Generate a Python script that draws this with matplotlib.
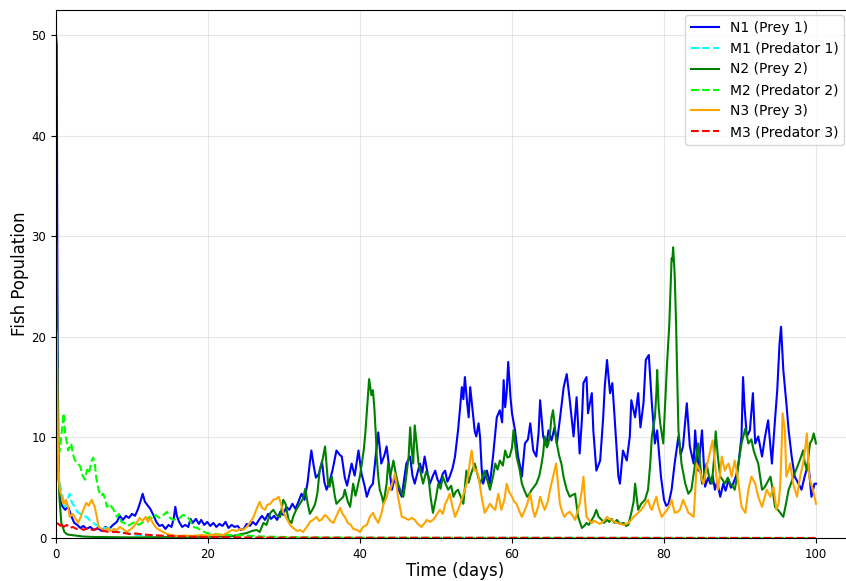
import matplotlib
matplotlib.use("Agg")
import matplotlib.pyplot as plt
import numpy as np

# (time in days, population)
n1_pts = [(0, 50), (0.1, 49), (0.2, 20), (0.35, 6), (0.6, 3.6), (0.8, 3.2), (1.2, 2.8), (1.6, 3.1), (2.0, 2.2),
          (2.4, 1.5), (2.8, 1.3),
          (3.2, 1.0), (3.6, 1.2), (4.0, 0.9), (4.5, 1.1), (5.0, 0.8), (5.5, 1.0), (6.0, 0.7), (6.5, 1.1), (7.0, 0.9),
          (7.5, 1.3), (8.0, 1.6), (8.4, 2.2), (8.8, 1.8), (9.2, 2.2), (9.6, 2.0), (10.0, 2.4), (10.4, 2.2), (10.8, 2.9),
          (11.1, 3.6), (11.4, 4.4), (11.7, 3.6), (12.0, 3.3), (12.4, 2.9), (12.8, 2.3), (13.2, 1.6), (13.6, 1.2),
          (14.0, 1.3), (14.4, 0.9), (14.8, 1.3), (15.2, 1.1), (15.5, 2.0), (15.7, 3.1), (15.9, 2.2), (16.2, 1.6),
          (16.6, 1.1), (17.0, 1.3), (17.4, 1.1), (17.7, 1.9), (18.0, 1.5), (18.4, 1.9), (18.8, 1.4), (19.1, 1.8),
          (19.5, 1.3), (19.9, 1.6), (20.3, 1.2), (20.7, 1.5), (21.1, 1.1), (21.5, 1.4), (21.9, 1.2), (22.3, 1.6),
          (22.7, 1.0), (23.1, 1.3), (23.5, 1.1), (23.9, 1.2), (24.3, 0.8), (24.7, 0.9), (25.1, 1.4), (25.5, 1.2),
          (25.9, 1.6), (26.3, 1.3), (26.7, 1.8), (27.1, 2.2), (27.5, 1.8), (27.9, 2.4), (28.3, 1.9), (28.7, 2.2),
          (29.1, 1.8), (29.5, 2.6), (29.9, 2.3), (30.3, 3.1), (30.7, 2.8), (31.1, 3.4), (31.5, 2.9), (31.9, 3.6),
          (32.3, 4.4), (32.7, 3.8), (33.1, 5.5), (33.4, 7.5), (33.6, 8.7), (33.9, 7.2), (34.2, 6.0), (34.6, 6.4),
          (35.0, 7.6), (35.3, 5.6), (35.6, 4.8), (36.0, 5.6), (36.4, 6.8), (36.9, 8.7), (37.3, 8.3), (37.6, 8.1),
          (38.0, 6.0), (38.3, 5.2), (38.6, 6.3), (38.9, 7.4), (39.3, 6.2), (39.8, 8.7), (40.2, 6.4), (40.6, 5.2),
          (40.9, 4.1), (41.3, 5.0), (41.7, 5.4), (42.1, 8.4), (42.4, 10.5), (42.8, 7.4), (43.2, 8.2), (43.5, 9.1),
          (43.9, 6.6), (44.2, 4.8), (44.5, 5.8), (44.8, 5.4), (45.2, 4.6), (45.5, 4.1), (45.8, 5.8), (46.1, 7.4),
          (46.6, 8.1), (46.9, 6.2), (47.2, 5.4), (47.6, 6.6), (47.9, 7.4), (48.2, 6.5), (48.5, 8.1), (48.9, 6.4),
          (49.2, 5.4), (49.6, 6.2), (49.9, 6.7), (50.2, 5.8), (50.5, 5.4), (50.9, 6.4), (51.2, 6.7), (51.5, 5.6),
          (51.8, 6.1), (52.2, 7.0), (52.5, 8.1), (52.9, 10.7), (53.2, 13.2), (53.4, 15.0), (53.6, 13.8), (53.8, 16.0),
          (54.1, 13.4), (54.3, 12.0), (54.5, 15.0), (54.9, 12.0), (55.1, 10.6), (55.3, 10.1), (55.6, 11.4),
          (55.8, 10.0), (56.0, 7.0), (56.2, 5.4), (56.5, 6.2), (56.7, 6.7), (57.1, 5.4), (57.5, 8.1), (58.0, 12.0),
          (58.4, 12.7), (58.7, 11.5), (58.9, 15.7), (59.1, 13.0), (59.3, 14.5), (59.5, 17.5), (59.8, 14.0),
          (60.0, 12.4), (60.4, 10.7), (60.8, 8.1), (61.1, 7.0), (61.3, 6.1), (61.7, 9.4), (62.1, 9.8), (62.4, 11.4),
          (62.8, 8.7), (63.2, 8.1), (63.5, 10.5), (63.7, 13.7), (64.1, 10.1), (64.5, 9.2), (64.8, 10.7), (65.2, 9.7),
          (65.6, 11.0), (65.9, 9.4), (66.3, 11.8), (66.8, 15.0), (67.2, 16.3), (67.6, 13.7), (68.1, 10.1),
          (68.5, 14.0), (68.9, 8.4), (69.2, 11.8), (69.4, 15.4), (69.8, 16.0), (70.0, 12.4), (70.5, 14.4),
          (70.7, 10.7), (71.1, 6.7), (71.6, 7.7), (72.0, 12.0), (72.2, 15.0), (72.5, 17.7), (72.9, 14.4),
          (73.2, 15.4), (73.5, 12.0), (74.0, 6.1), (74.2, 5.4), (74.6, 8.7), (75.1, 7.7), (75.5, 10.1), (75.7, 13.7),
          (76.2, 12.0), (76.6, 14.4), (76.9, 11.0), (77.3, 13.4), (77.6, 17.7), (78.0, 18.2), (78.4, 13.4),
          (78.8, 9.4), (79.1, 10.7), (79.6, 6.1), (80.0, 3.8), (80.3, 3.2), (80.6, 3.4), (81.0, 4.8), (81.4, 7.4),
          (81.9, 10.1), (82.2, 8.3), (82.5, 9.1), (83.0, 13.4), (83.4, 9.1), (83.9, 7.4), (84.1, 10.7), (84.5, 6.7),
          (85.0, 10.7), (85.4, 5.1), (85.8, 6.0), (86.1, 5.4), (86.4, 6.2), (86.7, 4.8), (87.0, 5.6), (87.4, 4.1),
          (87.8, 5.4), (88.1, 4.7), (88.5, 5.8), (88.8, 5.0), (89.1, 5.4), (89.5, 6.2), (89.8, 7.4), (90.2, 10.1),
          (90.4, 16.0), (90.6, 13.0), (90.9, 10.1), (91.3, 10.7), (91.7, 14.4), (92.0, 9.4), (92.4, 10.1),
          (92.9, 8.1), (93.3, 10.1), (93.7, 11.7), (94.2, 7.4), (94.6, 11.7), (94.9, 14.7), (95.2, 19.3),
          (95.4, 21.0), (95.7, 16.7), (96.1, 13.4), (96.4, 10.7), (96.8, 8.1), (97.2, 6.1), (97.7, 5.4), (98.1, 4.8),
          (98.5, 6.1), (99.0, 7.4), (99.4, 4.1), (99.8, 5.4), (100, 5.4)]

m1_pts = [(0, 8.7), (0.2, 7), (0.4, 5.5), (0.7, 4.8), (1.0, 3.6), (1.2, 3.1), (1.5, 3.8), (1.8, 4.4), (2.1, 3.5),
          (2.5, 3.1), (2.8, 2.6), (3.2, 2.4), (3.6, 2.2), (4.0, 2.1), (4.4, 1.8), (4.9, 1.5), (5.3, 1.3), (5.8, 1.1),
          (6.3, 1.0), (6.9, 1.0), (7.4, 0.8), (8.0, 0.6), (8.6, 0.6), (9.3, 0.5), (10.0, 0.4), (10.6, 0.3),
          (11.5, 0.3), (12.5, 0.2), (13.5, 0.2), (15, 0.15), (17, 0.1), (20, 0.08), (25, 0.04), (30, 0.02),
          (40, 0.01), (100, 0.0)]

n2_pts = [(0, 30), (0.1, 29), (0.25, 10), (0.45, 4), (0.7, 1.5), (1.1, 0.6), (1.5, 0.35), (2.0, 0.3), (2.5, 0.25),
          (3.5, 0.15),
          (5, 0.1), (7, 0.08), (10, 0.06), (14, 0.08), (18, 0.1), (22, 0.15), (23.3, 0.2), (24.2, 0.35), (25.1, 0.5),
          (25.8, 0.7), (26.4, 0.8), (26.8, 0.6), (27.3, 1.5), (27.7, 1.3), (28.2, 2.5), (28.6, 2.8), (29.0, 2.3),
          (29.5, 2.1), (29.9, 3.8), (30.2, 3.4), (30.6, 1.8), (31.0, 1.5), (31.2, 2.1), (31.6, 2.8), (32.1, 3.4),
          (32.5, 3.9), (32.8, 4.9), (33.1, 3.5), (33.4, 2.4), (33.8, 2.9), (34.1, 3.4), (34.4, 4.5), (34.7, 6.8),
          (35.0, 7.5), (35.4, 9.1), (35.8, 5.4), (36.0, 5.1), (36.3, 6.1), (36.7, 4.1), (36.9, 3.4), (37.4, 3.8),
          (37.8, 4.1), (38.0, 4.8), (38.4, 3.6), (38.7, 3.1), (39.1, 5.4), (39.4, 4.2), (39.6, 4.8), (40.0, 6.2),
          (40.2, 7.2), (40.5, 8.8), (40.7, 10.4), (41.0, 13.7), (41.2, 15.8), (41.5, 14.2), (41.7, 14.7),
          (41.9, 12.8), (42.1, 10.0), (42.2, 8.1), (42.4, 6.1), (42.6, 4.8), (42.9, 4.1), (43.1, 3.4), (43.5, 5.4),
          (43.7, 7.4), (44.0, 6.2), (44.4, 7.7), (44.7, 6.4), (45.0, 5.4), (45.4, 4.6), (45.7, 4.1), (46.0, 5.6),
          (46.4, 8.1), (46.6, 11.0), (46.8, 8.8), (47.0, 7.4), (47.2, 11.2), (47.5, 9.0), (47.7, 7.4), (48.0, 6.4),
          (48.3, 5.4), (48.7, 6.6), (49.0, 6.1), (49.3, 4.0), (49.6, 2.5), (50.0, 4.0), (50.3, 5.4), (50.6, 4.9),
          (50.9, 6.1), (51.3, 5.3), (51.6, 4.8), (52.0, 5.2), (52.3, 4.1), (52.6, 4.6), (52.9, 4.8), (53.3, 4.0),
          (53.6, 3.4), (54.0, 6.7), (54.3, 5.5), (54.5, 6.1), (54.8, 6.8), (55.1, 7.4), (55.5, 6.2), (55.8, 5.4),
          (56.1, 6.0), (56.4, 6.7), (56.8, 5.6), (57.1, 4.8), (57.5, 6.1), (57.8, 7.4), (58.1, 6.8), (58.4, 7.7),
          (58.8, 7.2), (59.1, 8.7), (59.4, 8.0), (59.7, 8.1), (60.0, 9.0), (60.2, 10.7), (60.4, 9.4), (60.6, 8.1),
          (61.0, 6.8), (61.3, 5.4), (61.7, 4.6), (62.0, 4.1), (62.3, 4.4), (62.6, 4.8), (62.9, 5.1), (63.2, 5.4),
          (63.6, 6.2), (63.9, 7.4), (64.1, 8.4), (64.3, 10.1), (64.6, 9.0), (64.8, 9.4), (65.0, 10.4), (65.2, 12.0),
          (65.4, 12.7), (65.7, 10.6), (65.9, 9.4), (66.2, 8.2), (66.5, 7.4), (66.8, 6.0), (67.2, 4.8), (67.6, 4.1),
          (68.0, 4.3), (68.3, 4.4), (68.7, 2.1), (69.2, 1.0), (69.5, 1.2), (69.8, 1.5), (70.1, 1.3), (70.5, 1.8),
          (70.8, 2.2), (71.1, 2.8), (71.4, 2.1), (71.8, 1.8), (72.1, 1.5), (72.5, 1.8), (72.8, 1.6), (73.1, 1.9),
          (73.5, 1.5), (73.8, 1.8), (74.2, 1.4), (74.7, 1.5), (75.0, 1.2), (75.3, 1.3), (75.7, 2.5), (76.0, 3.6),
          (76.2, 5.4), (76.6, 2.8), (77.0, 3.4), (77.5, 3.8), (77.9, 4.8), (78.2, 7.5), (78.4, 10.1), (78.8, 12.0),
          (79.0, 14.5), (79.1, 16.7), (79.3, 13.0), (79.5, 11.4), (79.9, 9.4), (80.1, 12.5), (80.4, 17.3),
          (80.7, 21.3), (80.9, 25.6), (81.0, 27.8), (81.1, 27.6), (81.2, 28.9), (81.4, 26.3), (81.6, 21.0),
          (81.7, 17.3), (81.9, 10.7), (82.3, 7.4), (82.8, 5.4), (83.2, 4.4), (83.6, 4.8), (84.1, 7.4), (84.5, 9.4),
          (85.0, 5.4), (85.3, 6.3), (85.6, 7.4), (85.9, 6.2), (86.3, 5.4), (86.6, 8.0), (86.8, 10.6), (87.1, 8.0),
          (87.4, 6.1), (87.7, 5.8), (88.0, 5.4), (88.4, 6.0), (88.7, 5.4), (89.0, 5.2), (89.3, 4.8), (89.6, 6.0),
          (89.8, 7.4), (90.2, 9.4), (90.7, 10.9), (91.1, 9.4), (91.5, 9.8), (91.8, 8.7), (92.1, 8.0), (92.4, 7.4),
          (92.7, 5.8), (92.9, 4.8), (93.2, 5.0), (93.5, 5.4), (94.0, 6.1), (94.3, 4.8), (94.6, 3.1), (95.0, 2.8),
          (95.3, 2.5), (95.7, 2.1), (96.0, 3.2), (96.4, 4.8), (96.7, 5.4), (97.0, 6.1), (97.4, 6.8), (97.7, 7.4),
          (98.0, 8.0), (98.3, 8.7), (98.5, 7.6), (98.8, 6.7), (99.2, 9.4), (99.5, 9.8), (99.7, 10.4), (100, 9.4)]

m2_pts = [(0, 6), (0.1, 7), (0.3, 8.2), (0.5, 8.7), (0.75, 10.5), (1.0, 12.4), (1.2, 10.4), (1.4, 9.6), (1.6, 8.7),
          (1.8, 9.0), (2.0, 9.4), (2.2, 8.4), (2.5, 7.7), (2.8, 7.5), (3.2, 7.1), (3.5, 6.2), (3.8, 5.8), (4.1, 6.8),
          (4.3, 6.4), (4.5, 7.0), (4.7, 7.7), (4.9, 8.0), (5.1, 7.4), (5.3, 6.0), (5.6, 4.8), (5.9, 4.2), (6.2, 4.4),
          (6.5, 3.8), (6.7, 3.1), (7.0, 3.4), (7.3, 3.1), (7.6, 2.8), (8.0, 2.1), (8.3, 2.4), (8.6, 1.6), (9.0, 1.5),
          (9.4, 1.2), (9.9, 1.4), (10.4, 1.6), (10.9, 1.3), (11.3, 1.5), (11.8, 1.8), (12.3, 2.1), (12.7, 1.9),
          (13.1, 2.3), (13.6, 2.0), (14.0, 2.2), (14.6, 2.6), (15.0, 2.0), (15.4, 1.8), (15.8, 1.9), (16.3, 2.0),
          (16.7, 2.3), (17.2, 2.2), (17.6, 1.8), (18.0, 1.1), (18.6, 1.0), (19.0, 0.8), (19.8, 0.5), (20.5, 0.4),
          (21.6, 0.35), (23, 0.3), (25, 0.25), (27, 0.15), (30, 0.1), (35, 0.05), (45, 0.02), (100, 0.0)]

n3_pts = [(0, 21), (0.1, 20), (0.25, 9), (0.45, 5), (0.75, 4.1), (1.0, 3.4), (1.3, 3.8), (1.6, 3.1), (1.8, 2.1),
          (2.2, 2.4),
          (2.5, 2.0), (2.9, 1.5), (3.2, 2.0), (3.6, 2.8), (4.0, 3.5), (4.3, 3.2), (4.7, 3.8), (5.1, 3.1), (5.4, 2.0),
          (5.6, 1.1), (6.0, 0.9), (6.4, 0.7), (6.8, 1.0), (7.2, 0.7), (7.6, 0.9), (8.0, 0.8), (8.4, 1.1), (8.8, 0.9),
          (9.3, 0.6), (9.7, 0.8), (10.2, 1.1), (10.6, 1.5), (11.0, 2.0), (11.4, 1.7), (11.8, 2.1), (12.1, 1.6),
          (12.4, 2.0), (12.8, 1.4), (13.2, 1.0), (13.6, 0.8), (14.1, 0.6), (14.6, 0.4), (15.2, 0.3), (16, 0.2),
          (17, 0.25), (18, 0.2), (19, 0.3), (20, 0.25), (21, 0.35), (22, 0.3), (22.5, 0.5), (23.2, 0.8), (23.8, 0.7),
          (24.2, 0.9), (24.6, 0.8), (25.1, 1.1), (25.5, 1.5), (26.0, 2.1), (26.4, 2.9), (26.8, 3.6), (27.1, 3.0),
          (27.5, 2.8), (27.8, 3.3), (28.2, 3.4), (28.6, 3.8), (29.0, 3.9), (29.3, 4.1), (29.6, 3.4), (29.9, 2.6),
          (30.3, 2.0), (30.8, 1.3), (31.2, 1.0), (31.7, 0.7), (32.1, 0.8), (32.5, 0.6), (33.0, 1.1), (33.4, 1.6),
          (33.8, 1.8), (34.3, 2.1), (34.6, 1.7), (34.9, 1.8), (35.4, 2.3), (35.8, 2.0), (36.1, 1.7), (36.5, 1.5),
          (36.9, 2.2), (37.4, 3.0), (37.7, 2.4), (38.0, 2.1), (38.4, 1.5), (38.8, 1.3), (39.1, 0.9), (39.6, 0.8),
          (40.0, 0.6), (40.4, 1.1), (40.9, 1.3), (41.3, 2.1), (41.7, 2.5), (42.0, 2.0), (42.4, 1.5), (42.8, 2.4),
          (43.1, 3.4), (43.5, 4.0), (43.8, 5.0), (44.0, 4.8), (44.3, 5.6), (44.6, 6.4), (45.0, 4.1), (45.3, 2.9),
          (45.5, 2.1), (45.9, 2.0), (46.4, 1.8), (46.8, 2.0), (47.2, 1.8), (47.6, 1.4), (48.1, 1.1), (48.5, 1.5),
          (48.8, 1.8), (49.2, 1.6), (49.6, 1.8), (50.0, 2.2), (50.5, 2.8), (50.9, 2.4), (51.2, 3.4), (51.5, 3.8),
          (51.8, 4.4), (52.2, 3.0), (52.5, 2.1), (52.9, 2.8), (53.2, 3.4), (53.5, 4.1), (53.8, 4.8), (54.1, 5.6),
          (54.3, 6.7), (54.5, 7.8), (54.7, 8.7), (55.0, 6.7), (55.3, 6.8), (55.6, 6.1), (56.0, 4.1), (56.4, 2.5),
          (56.8, 3.0), (57.1, 3.4), (57.5, 3.0), (57.8, 2.8), (58.2, 4.4), (58.6, 2.8), (59.0, 3.8), (59.3, 5.4),
          (59.6, 4.6), (60.0, 4.1), (60.3, 3.6), (60.6, 3.4), (61.0, 2.6), (61.3, 2.1), (61.7, 2.8), (62.0, 3.4),
          (62.4, 4.4), (62.7, 3.0), (63.0, 2.1), (63.4, 3.0), (63.7, 4.1), (64.0, 3.4), (64.3, 2.8), (64.7, 3.6),
          (65.0, 4.8), (65.4, 6.1), (65.8, 7.4), (66.1, 5.0), (66.3, 3.4), (66.6, 2.6), (66.9, 2.1), (67.2, 2.4),
          (67.6, 2.6), (68.0, 2.2), (68.3, 1.8), (68.6, 2.6), (68.9, 3.4), (69.2, 4.8), (69.4, 6.1), (69.6, 3.8),
          (69.8, 2.1), (70.1, 1.8), (70.5, 1.5), (70.8, 1.7), (71.1, 1.6), (71.5, 1.4), (71.8, 1.5), (72.2, 1.8),
          (72.5, 2.1), (72.8, 1.9), (73.1, 1.8), (73.5, 1.6), (73.8, 1.5), (74.2, 1.4), (74.7, 1.3), (75.0, 1.4),
          (75.3, 1.5), (75.7, 1.8), (76.0, 2.1), (76.3, 2.3), (76.6, 2.5), (77.0, 2.8), (77.3, 3.1), (77.6, 3.5),
          (77.9, 3.8), (78.2, 3.0), (78.4, 2.8), (78.7, 3.5), (79.0, 4.1), (79.3, 3.0), (79.7, 2.1), (80.0, 2.4),
          (80.4, 2.8), (80.7, 3.2), (81.0, 3.8), (81.4, 2.5), (81.8, 2.6), (82.1, 2.8), (82.5, 3.8), (82.9, 3.1),
          (83.2, 2.5), (83.6, 2.3), (83.9, 2.1), (84.1, 4.5), (84.3, 7.4), (84.7, 6.7), (85.0, 5.8), (85.2, 5.4),
          (85.5, 6.5), (85.7, 7.4), (86.1, 8.7), (86.4, 9.7), (86.7, 7.4), (87.1, 4.8), (87.4, 6.5), (87.6, 8.1),
          (88.0, 6.7), (88.3, 7.2), (88.5, 7.4), (88.9, 6.1), (89.3, 7.7), (89.6, 6.5), (89.8, 5.4), (90.2, 3.1),
          (90.7, 2.5), (91.1, 4.8), (91.5, 6.1), (92.0, 5.4), (92.4, 4.1), (92.9, 3.1), (93.2, 3.9), (93.5, 4.8),
          (94.0, 4.1), (94.4, 5.1), (94.8, 2.8), (95.1, 3.5), (95.3, 5.4), (95.5, 9.5), (95.6, 12.4), (95.9, 10.7),
          (96.1, 6.1), (96.4, 6.8), (96.6, 7.4), (97.0, 5.4), (97.5, 4.1), (97.9, 6.1), (98.3, 7.4), (98.6, 9.0),
          (98.8, 10.4), (99.1, 6.1), (99.3, 5.5), (99.6, 4.8), (100, 3.4)]

m3_pts = [(0, 1.5), (0.3, 1.4), (0.6, 1.2), (0.8, 1.5), (1.0, 1.1), (1.4, 1.3), (1.8, 1.0), (2.2, 1.1), (2.7, 0.9),
          (3.2, 1.0), (3.6, 0.8), (4.2, 1.0), (4.8, 0.8), (5.5, 0.9), (6.2, 0.7), (7.1, 0.6), (8.0, 0.6), (8.9, 0.5),
          (9.7, 0.4), (10.5, 0.45), (11.5, 0.35), (12.4, 0.3), (13.5, 0.25), (15, 0.2), (17, 0.15), (20, 0.1),
          (25, 0.05), (30, 0.03), (100, 0.0)]

series = [
    (n1_pts, "N1 (Prey 1)", "blue", "-"),
    (m1_pts, "M1 (Predator 1)", "cyan", "--"),
    (n2_pts, "N2 (Prey 2)", "green", "-"),
    (m2_pts, "M2 (Predator 2)", "lime", "--"),
    (n3_pts, "N3 (Prey 3)", "orange", "-"),
    (m3_pts, "M3 (Predator 3)", "red", "--"),
]

fig = plt.figure(figsize=(8.46, 5.81), dpi=100)
# axes run a little past the right edge of the picture, like the cropped original
ax = fig.add_axes([56 / 846, 43 / 581, 798 / 846, 528 / 581])

for pts, label, color, ls in series:
    t, v = np.array(pts).T
    ax.plot(t, v, ls, color=color, linewidth=1.5, label=label)

ax.set_xlim(0, 105)
ax.set_ylim(0, 52.5)
ax.set_xticks([0, 20, 40, 60, 80, 100])
ax.set_yticks([0, 10, 20, 30, 40, 50])
ax.tick_params(labelsize=8.5)
ax.set_xlabel("Time (days)", fontsize=12, labelpad=1)
ax.set_ylabel("Fish Population", fontsize=12, labelpad=2)
ax.grid(True, alpha=0.3)
ax.legend(loc="upper right", bbox_to_anchor=(844 / 846, 1 - 15 / 581),
          bbox_transform=fig.transFigure, borderaxespad=0, fontsize=10)

fig.savefig("out.png", dpi=100)
